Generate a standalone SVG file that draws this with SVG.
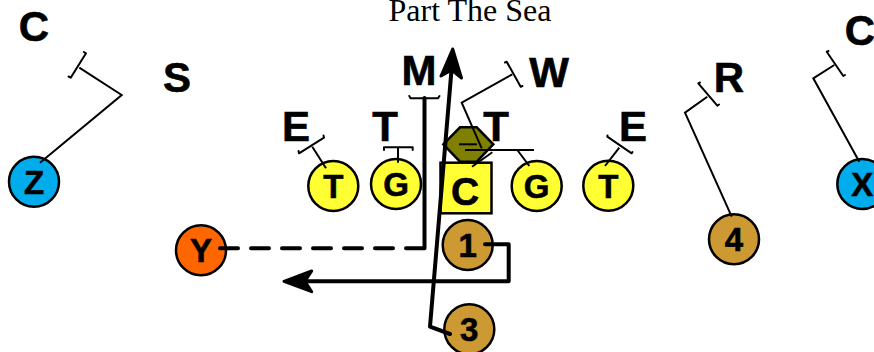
<svg xmlns="http://www.w3.org/2000/svg" width="874" height="352" viewBox="0 0 874 352">
<style>
.b{font-family:"Liberation Sans",Arial,sans-serif;font-weight:700;fill:#000;text-anchor:middle;stroke:#000;stroke-width:.6}
.d{font-size:42px}
.n{font-size:33px}
.s{stroke:#000;stroke-width:2;fill:none;stroke-linejoin:miter}
.t{stroke:#000;stroke-width:2;fill:none;stroke-linecap:round;stroke-linejoin:round}
.r{stroke:#000;stroke-width:4;fill:none;stroke-linejoin:round;stroke-linecap:round}
.o{stroke:#000;stroke-width:2.5}
</style>
<rect width="874" height="352" fill="#fff"/>
<text x="470" y="21" font-family="Liberation Serif,serif" font-size="32" text-anchor="middle">Part The Sea</text>
<g id="defenders">
<text class="b d" x="34" y="41">C</text>
<text class="b d" x="177" y="92">S</text>
<text class="b d" x="296" y="141">E</text>
<text class="b d" x="385" y="141">T</text>
<text class="b d" x="419" y="85">M</text>
<text class="b d" x="496" y="141">T</text>
<text class="b d" x="549" y="87">W</text>
<text class="b d" x="633" y="141">E</text>
<text class="b d" x="729" y="92">R</text>
<text class="b d" x="860" y="45">C</text>
</g>
<g id="node-ball"><polygon class="o" fill="#808000" points="443.3,144.3 460,127.3 476.7,127.3 493.3,144.3 476.7,161.7 460,161.7"/></g>
<g id="node-c"><rect class="o" fill="#ffff33" x="440.5" y="162.7" width="51" height="50.6"/><text class="b" font-size="39" x="465" y="205">C</text></g>
<g id="node-t1"><circle class="o" fill="#ffff33" cx="333.3" cy="186" r="25"/><text class="b n" x="333.3" y="198">T</text></g>
<g id="node-g1"><circle class="o" fill="#ffff33" cx="396" cy="184" r="25"/><text class="b n" x="396" y="196">G</text></g>
<g id="node-g2"><circle class="o" fill="#ffff33" cx="536.7" cy="186" r="25"/><text class="b n" x="536.7" y="198">G</text></g>
<g id="node-t2"><circle class="o" fill="#ffff33" cx="608.3" cy="185.7" r="25"/><text class="b n" x="608.3" y="198">T</text></g>
<g id="node-z"><circle class="o" fill="#00acec" cx="34" cy="181.7" r="25"/><text class="b n" x="34" y="194">Z</text></g>
<g id="node-x"><circle class="o" fill="#00acec" cx="862.3" cy="184" r="25"/><text class="b n" x="862.3" y="196">X</text></g>
<g id="node-y"><circle class="o" fill="#ff6600" cx="201" cy="250.3" r="25"/><text class="b n" x="201" y="262">Y</text></g>
<g id="node-1"><circle class="o" fill="#cc9933" cx="467.7" cy="245" r="25"/><text class="b n" x="467.7" y="257">1</text></g>
<g id="node-3"><circle class="o" fill="#cc9933" cx="469.3" cy="329.3" r="25"/><text class="b n" x="469.3" y="341">3</text></g>
<g id="node-4"><circle class="o" fill="#cc9933" cx="734" cy="239.3" r="25"/><text class="b n" x="734" y="251">4</text></g>
<g id="connectors">
<polyline class="s" points="40,162.7 121.7,95 79.3,67.7"/>
<polyline class="t" points="68.5,76.5 70.7,77.7 86,53.3 83.8,52"/>
<polyline class="s" stroke-width="2.5" points="326,168.3 312.3,146.7"/>
<polyline class="t" points="298.5,151 299,153.3 324,137.7 323.5,135.5"/>
<polyline class="s" points="398,162.7 398,147.3"/>
<polyline class="t" points="384,150 384,147.3 412.7,147.3 412.7,150"/>
<polyline class="t" stroke-width="3" points="409.3,96 410.5,98.3 438,98.3 439.5,96"/>
<polyline class="s" points="529.3,166 517.3,150"/>
<polyline class="s" points="465,150 534,150"/>
<polyline class="s" points="472,166.7 492.3,152.3"/>
<polyline class="s" points="459,144.3 477,144.3"/>
<polyline class="s" points="481.7,148.3 461.7,102.7 512.3,74.3"/>
<polyline class="t" points="505,62.5 506.7,61.7 520.7,86.7 522.5,86"/>
<polyline class="s" points="605,166 619.3,147.7"/>
<polyline class="t" points="607.5,135.5 607.3,136.7 631.7,153.3 632.5,152"/>
<polyline class="s" points="731.7,216.7 685,112.7 707.3,96.7"/>
<polyline class="t" points="700,82.5 698.3,83.3 717.3,105.7 719,104.5"/>
<polyline class="s" points="859.3,161.7 813.3,78.3 834.3,65"/>
<polyline class="t" points="828.5,51 826.7,51.7 843.3,76 845,75"/>
<line class="r" stroke-width="3" x1="424.5" y1="98" x2="424.5" y2="248.3"/>
<line class="r" stroke-dasharray="18 13" x1="220" y1="248.3" x2="424" y2="248.3"/>
<polyline class="r" points="485,244.3 508.7,244.3 508.7,281.3 305,281.3"/>
<polygon fill="#000" stroke="#000" stroke-width="3" stroke-linejoin="round" points="284,281.3 311.7,271 305,281.3 311.7,291.7"/>
<polyline class="r" points="450,334 430,326.7 451.5,70"/>
<polygon fill="#000" stroke="#000" stroke-width="3" stroke-linejoin="round" points="452.7,49 441,76 451.7,70 461.5,78"/>
</g>
</svg>
